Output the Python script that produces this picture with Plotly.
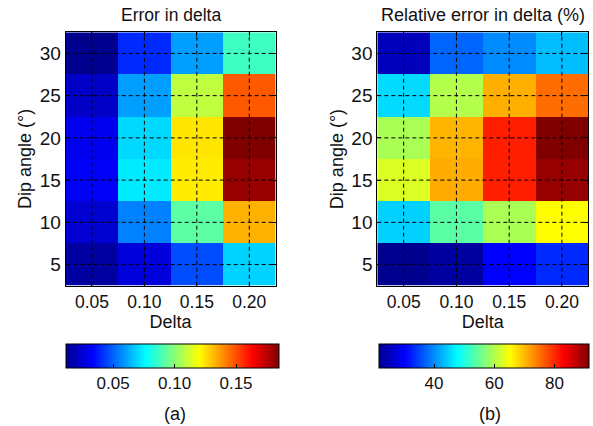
import numpy as np
import plotly.graph_objects as go

# Grid of the parameter study
delta = [0.05, 0.10, 0.15, 0.20]
dip_angle = [5, 10, 15, 20, 25, 30]

# Absolute error in delta (rows follow dip_angle, columns follow delta)
err_delta = [
    [0.015, 0.026, 0.046, 0.069],
    [0.024, 0.055, 0.092, 0.133],
    [0.032, 0.073, 0.123, 0.181],
    [0.030, 0.070, 0.124, 0.1848],
    [0.022, 0.060, 0.109, 0.148],
    [0.0114, 0.040, 0.060, 0.087],
]

# Relative error in delta, percent
rel_err_delta = [
    [21.8, 23.2, 30.5, 33.3],
    [44.8, 54.1, 59.6, 65.4],
    [63.0, 71.2, 80.8, 90.1],
    [59.6, 70.5, 80.8, 91.6],
    [45.5, 60.3, 70.9, 75.4],
    [25.3, 37.4, 40.1, 43.5],
]

cbar_ticks_a = [0.05, 0.10, 0.15]
cbar_ticks_b = [40, 60, 80]

W, H = 593, 426
FONT = "Liberation Sans Narrow, Arial Narrow, Liberation Sans, Arial, sans-serif"
INK = "#111"

# MATLAB-style jet colormap
jet = [
    [0.0, "rgb(0,0,143)"],
    [0.125, "rgb(0,0,255)"],
    [0.375, "rgb(0,255,255)"],
    [0.625, "rgb(255,255,0)"],
    [0.875, "rgb(255,0,0)"],
    [1.0, "rgb(128,0,0)"],
]


def px_x(p):
    return p / W


def px_y(p):
    return 1 - p / H


panels = [
    dict(z=err_delta, x0=65.7, x1=275.5, title="Error in delta",
         cb_x0=66, cb_x1=278.5, ticks=cbar_ticks_a, fmt=".2f", tag="(a)", tag_x=175),
    dict(z=rel_err_delta, x0=377.3, x1=588.3, title="Relative error in delta (%)",
         cb_x0=379.3, cb_x1=589.3, ticks=cbar_ticks_b, fmt="d", tag="(b)", tag_x=490),
]
plot_top, plot_bot = 32.3, 285.7
cb_top, cb_h = 344.3, 24.4

fig = go.Figure()
annotations = []
shapes = []

for i, p in enumerate(panels):
    n = "" if i == 0 else str(i + 1)
    z = np.array(p["z"], dtype=float)
    fig.add_trace(go.Heatmap(
        x=delta, y=dip_angle, z=z,
        zmin=z.min(), zmax=z.max(),
        colorscale=jet,
        xaxis="x" + n, yaxis="y" + n,
        hoverinfo="skip",
        colorbar=dict(
            orientation="h",
            xref="paper", yref="paper",
            x=px_x((p["cb_x0"] + p["cb_x1"]) / 2), xanchor="center",
            y=px_y(cb_top), yanchor="top",
            len=(p["cb_x1"] - p["cb_x0"]) / W, lenmode="fraction",
            thickness=cb_h, thicknessmode="pixels",
            xpad=0, ypad=0,
            outlinewidth=1, outlinecolor="black",
            tickvals=p["ticks"], tickformat=p["fmt"],
            ticks="inside", ticklen=4, tickcolor="black",
            tickfont=dict(family=FONT, size=17, color=INK),
        ),
    ))

    dom_x = [px_x(p["x0"]), px_x(p["x1"])]
    dom_y = [px_y(plot_bot), px_y(plot_top)]
    fig.layout["xaxis" + n] = dict(
        domain=dom_x, anchor="y" + n,
        range=[delta[0] - 0.025, delta[-1] + 0.025],
        tickvals=delta, tickformat=".2f",
        ticks="inside", ticklen=4, tickcolor="black",
        showline=True, mirror="ticks", linecolor="black", linewidth=1,
        showgrid=False, zeroline=False,
        tickfont=dict(family=FONT, size=17.5, color=INK),
        title=dict(text="Delta", font=dict(family=FONT, size=18, color=INK), standoff=2),
    )
    fig.layout["yaxis" + n] = dict(
        domain=dom_y, anchor="x" + n,
        range=[dip_angle[0] - 2.5, dip_angle[-1] + 2.5],
        tickvals=dip_angle,
        ticks="inside", ticklen=4, tickcolor="black",
        showline=True, mirror="ticks", linecolor="black", linewidth=1,
        showgrid=False, zeroline=False,
        tickfont=dict(family=FONT, size=19, color=INK),
        title=dict(text="Dip angle (°)", font=dict(family=FONT, size=18, color=INK), standoff=3),
    )

    # dashed grid drawn on top of the image
    xr, yr = "x" + n, "y" + n
    for xv in delta:
        shapes.append(dict(type="line", xref=xr, yref=yr + " domain",
                           x0=xv, x1=xv, y0=0, y1=1, layer="above",
                           line=dict(color="black", width=1, dash="4px,3px")))
    for yv in dip_angle:
        shapes.append(dict(type="line", xref=xr + " domain", yref=yr,
                           x0=0, x1=1, y0=yv, y1=yv, layer="above",
                           line=dict(color="black", width=1, dash="4px,3px")))

    annotations.append(dict(
        text=p["title"], xref="paper", yref="paper",
        x=sum(dom_x) / 2, y=px_y(15), xanchor="center", yanchor="middle",
        showarrow=False, font=dict(family=FONT, size=18 if i else 17.5, color=INK),
    ))
    annotations.append(dict(
        text=p["tag"], xref="paper", yref="paper",
        x=px_x(p["tag_x"]), y=px_y(414), xanchor="center", yanchor="middle",
        showarrow=False, font=dict(family=FONT, size=18, color=INK),
    ))

fig.update_layout(
    width=W, height=H,
    margin=dict(l=0, r=0, t=0, b=0),
    paper_bgcolor="white", plot_bgcolor="white",
    annotations=annotations, shapes=shapes,
    showlegend=False,
)

fig.write_html("out.html")
